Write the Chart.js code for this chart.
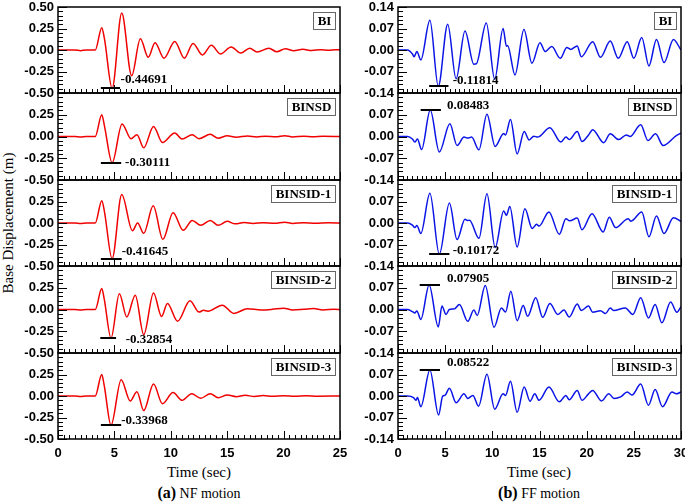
<!DOCTYPE html>
<html><head><meta charset="utf-8">
<script src="https://cdn.jsdelivr.net/npm/chart.js@4.4.0/dist/chart.umd.min.js"></script>
<style>
body{margin:0;background:#fff;width:685px;height:503px;overflow:hidden;position:relative;font-family:"Liberation Serif",serif}
canvas{position:absolute}
.t{position:absolute;white-space:nowrap;color:#000;transform:translate(-50%,-50%)}
</style></head><body>
<div class="t" style="left:8px;top:223px;transform:translate(-50%,-50%) rotate(-90deg);font-size:15px">Base Displacement (m)</div>
<div class="t" style="left:199px;top:472px;font-size:15px">Time (sec)</div>
<div class="t" style="left:539px;top:472px;font-size:15px">Time (sec)</div>
<div class="t" style="left:199px;top:493px;font-size:14px"><b style="font-size:16px">(a)</b> NF motion</div>
<div class="t" style="left:539px;top:493px;font-size:14px"><b style="font-size:16px">(b)</b> FF motion</div>
<script>
// ---------------- data ----------------
const panelNames = ['BI', 'BINSD', 'BINSID-1', 'BINSID-2', 'BINSID-3'];

// NF motion: [time (s), base displacement (m)]
const NF_BI = [[0,0],[1.5,0],[2.0,-0.008],[2.5,0],[3.3,0],[3.88,0.26],[4.12,0.13],[4.8,-0.447],[5.65,0.43],[6.53,-0.30],[7.3,0.13],[8.0,-0.085],[8.6,0.085],[9.4,-0.095],[10.35,0.10],[11.2,-0.095],[11.97,0.077],[12.8,-0.058],[13.6,0.054],[14.4,-0.046],[15.35,0.035],[16.2,-0.035],[17.0,0.02],[17.65,-0.023],[18.7,0.02],[19.4,-0.02],[20.15,0.015],[20.9,-0.01],[21.7,0.008],[22.5,-0.006],[23.3,0.004],[24.0,-0.003],[24.6,0.004],[25,0]];
const NF_BINSD = [[0,0],[1.5,0],[2.0,-0.006],[2.5,0],[3.3,0],[3.88,0.25],[4.12,0.12],[4.8,-0.301],[5.68,0.145],[6.47,-0.026],[7.0,0.02],[7.6,-0.13],[8.47,0.115],[9.26,-0.07],[10.35,0.04],[11.0,-0.03],[11.9,0.02],[12.5,-0.025],[13.5,0.025],[14.2,-0.02],[15.0,0.008],[15.8,-0.008],[16.8,0.006],[17.6,-0.005],[18.4,0.004],[19.3,-0.004],[20.1,0.01],[20.8,-0.005],[21.8,0.004],[22.6,-0.003],[23.5,0.003],[25,0]];
const NF_BINSID1 = [[0,0],[1.5,0],[2.0,-0.006],[2.5,0],[3.3,0],[3.88,0.26],[4.12,0.13],[4.8,-0.416],[5.65,0.33],[6.6,-0.09],[7.06,0.0],[7.6,-0.12],[8.44,0.2],[9.3,-0.19],[10.2,0.12],[11.1,-0.085],[11.9,0.03],[12.65,-0.027],[13.5,0.03],[14.2,-0.027],[15.0,0.02],[15.7,-0.01],[16.5,0.006],[17.3,-0.005],[18.2,0.004],[19.2,-0.004],[20.1,0.01],[20.8,-0.005],[21.8,0.003],[22.8,-0.003],[24.0,0.003],[25,0]];
const NF_BINSID2 = [[0,0],[1.5,0],[2.0,-0.006],[2.5,0],[3.3,0],[3.88,0.24],[4.1,0.12],[4.7,-0.329],[5.44,0.18],[6.1,-0.085],[6.85,0.165],[7.6,-0.29],[8.47,0.19],[9.18,-0.08],[9.7,0.07],[10.6,-0.135],[11.7,0.1],[12.5,-0.03],[12.9,-0.01],[13.3,-0.02],[14.56,0.05],[15.6,-0.045],[16.8,0.01],[18.0,-0.005],[19.0,0.002],[20.0,0.015],[20.8,-0.005],[21.8,0.003],[22.65,0.012],[23.5,-0.005],[24.5,0.003],[25,0]];
const NF_BINSID3 = [[0,0],[1.5,0],[2.0,-0.006],[2.5,0],[3.3,0],[3.88,0.25],[4.1,0.12],[4.7,-0.34],[5.6,0.19],[6.4,-0.058],[7.0,0.05],[7.6,-0.17],[8.47,0.14],[9.26,-0.09],[10.2,0.04],[11.0,-0.05],[11.85,0.027],[12.65,-0.027],[13.5,0.027],[14.2,-0.02],[15.0,0.012],[15.8,-0.008],[16.6,0.008],[17.4,-0.005],[18.2,0.005],[19.0,-0.004],[20.0,0.004],[21.0,-0.003],[22.0,0.003],[23.0,-0.002],[25,0]];

// FF motion: [time (s), base displacement (m)]
const FF_BI = [[0,0],[1.0,0],[1.53,-0.013],[1.7,-0.022],[2.0,-0.005],[2.42,-0.032],[3.38,0.097],[4.27,-0.118],[5.27,0.084],[6.16,-0.094],[7.1,0.062],[8.04,-0.046],[8.3,-0.045],[9.36,0.088],[10.25,-0.095],[11.14,0.07],[11.5,0.012],[11.62,0.015],[12.4,-0.081],[13.35,0.067],[14.2,-0.043],[15.05,0.024],[15.6,-0.005],[16.3,0.011],[17.2,-0.027],[17.9,0.008],[18.3,0.002],[19.0,0.013],[19.43,-0.022],[20.64,0.027],[21.46,-0.024],[22.5,0.029],[23.35,-0.027],[24.3,0.027],[25.0,-0.027],[25.84,0.041],[26.6,-0.052],[27.4,0.034],[28.2,-0.041],[29.2,0.034],[30,0]];
const FF_BINSD = [[0,0],[1.0,0],[1.53,-0.008],[1.78,-0.018],[2.06,-0.008],[2.5,-0.042],[3.42,0.085],[4.38,-0.05],[5.5,0.041],[6.26,-0.029],[7.0,-0.002],[7.4,-0.005],[7.8,-0.002],[8.58,-0.043],[9.43,0.072],[10.3,-0.032],[11.2,0.01],[11.4,0.005],[11.92,0.055],[12.63,-0.056],[13.38,0.016],[13.9,-0.011],[14.4,0.001],[14.8,-0.002],[16.1,0.028],[17.26,-0.018],[17.8,-0.002],[18.15,-0.01],[19.0,0.016],[19.5,-0.016],[20.2,0.005],[20.64,0.022],[21.8,-0.02],[22.5,0.009],[23.4,-0.01],[24.2,0.005],[24.6,0.0],[25.73,0.038],[26.5,-0.013],[27.3,0.009],[28.1,-0.029],[29.5,0.003],[30,0.011]];
const FF_BINSID1 = [[0,0],[1.0,0],[1.53,-0.007],[1.78,-0.015],[2.0,-0.008],[2.42,-0.034],[3.38,0.097],[4.38,-0.102],[5.45,0.065],[6.26,-0.054],[7.1,0.012],[7.35,0.008],[7.58,0.009],[8.58,-0.05],[9.43,0.095],[10.3,-0.08],[11.2,0.039],[11.5,0.025],[11.85,0.054],[12.63,-0.078],[13.45,0.046],[14.23,-0.018],[14.7,-0.004],[14.95,-0.01],[16.0,0.036],[17.1,-0.037],[17.8,0.014],[18.2,0.007],[19.0,0.016],[19.5,-0.022],[20.57,0.03],[21.75,-0.029],[22.4,0.019],[23.06,-0.015],[24.4,0.014],[24.7,0.006],[25.84,0.036],[26.6,-0.045],[27.4,0.023],[28.2,-0.034],[29.2,0.017],[30,0.005]];
const FF_BINSID2 = [[0,0],[1.0,0],[1.53,-0.007],[1.78,-0.011],[2.0,-0.005],[2.42,-0.032],[3.3,0.079],[4.27,-0.056],[4.66,0.011],[5.09,-0.016],[5.44,0.0],[5.98,0.002],[6.51,0.016],[7.4,-0.038],[8.04,-0.002],[8.4,-0.019],[9.25,0.077],[10.18,-0.057],[10.96,0.005],[11.4,-0.008],[11.96,0.059],[12.63,-0.036],[13.27,0.013],[13.74,-0.022],[14.6,0.038],[15.34,-0.025],[16.1,0.019],[16.94,-0.016],[17.6,-0.002],[18.15,-0.024],[19.0,0.018],[19.43,-0.003],[20.2,0.011],[20.64,-0.009],[21.46,-0.004],[22.0,-0.013],[22.5,0.005],[22.85,-0.003],[24.1,0.005],[24.9,-0.016],[25.73,0.038],[26.55,-0.027],[27.26,0.016],[27.97,-0.043],[28.9,0.024],[29.57,-0.009],[30,0.009]];
const FF_BINSID3 = [[0,0],[1.0,0],[1.64,-0.005],[1.9,-0.014],[2.06,-0.005],[2.42,-0.035],[3.38,0.085],[4.3,-0.062],[4.73,-0.001],[4.98,0.002],[5.45,0.025],[6.16,-0.022],[7.0,0.007],[7.4,-0.008],[7.94,0.002],[8.54,-0.033],[9.43,0.071],[10.25,-0.043],[11.14,0.007],[11.4,0.002],[11.92,0.048],[12.63,-0.053],[13.38,0.029],[14.0,-0.017],[14.5,0.007],[14.95,-0.014],[16.0,0.029],[17.1,-0.019],[17.8,0.002],[18.15,-0.012],[19.0,0.018],[19.5,-0.014],[20.2,0.007],[20.64,0.018],[21.57,-0.016],[22.35,0.007],[22.9,-0.008],[23.6,-0.003],[24.3,0.013],[24.8,0.003],[25.73,0.039],[26.55,-0.03],[27.26,0.021],[28.04,-0.035],[29.04,0.013],[29.5,0.007],[30,0.013]];

// peak values marked in each panel and the time span of their marker line
const nfPeaks = [-0.44691, -0.30111, -0.41645, -0.32854, -0.33968];
const ffPeaks = [-0.11814, 0.08483, -0.10172, 0.07905, 0.08522];
const nfPeakSpan = [[3.8,5.5],[3.8,5.6],[3.8,5.65],[3.75,5.15],[3.8,5.6]];
const ffPeakSpan = [[3.3,5.35],[2.4,4.55],[3.3,5.45],[2.3,4.45],[2.3,4.45]];

// ---------------- layout / style ----------------
const nfLabelX = [5.55, 5.95, 5.65, 6.0, 5.6];
const nfLabelDy = [-8, 0, -7, 2, -4];
const ffLabelX = [5.8, 5.2, 5.8, 5.2, 5.2];
const ffLabelDy = [-5, -4, -3, -6, -7];
const panelTops = [7, 93, 180, 266, 353];
const panelBottom = 439;

const cols = [
  {left:0, width:360, yWidth:58, padRight:20, xMax:25, yMax:0.5, yStep:0.25, yMinor:0.05, color:'#f00000',
   series:[NF_BI, NF_BINSD, NF_BINSID1, NF_BINSID2, NF_BINSID3], peaks:nfPeaks, spans:nfPeakSpan, lx:nfLabelX, ldy:nfLabelDy},
  {left:345, width:340, yWidth:53, padRight:4, xMax:30, yMax:0.14, yStep:0.07, yMinor:0.014, color:'#0a14e6',
   series:[FF_BI, FF_BINSD, FF_BINSID1, FF_BINSID2, FF_BINSID3], peaks:ffPeaks, spans:ffPeakSpan, lx:ffLabelX, ldy:ffLabelDy}
];

const panelPlugin = {
  id: 'panel',
  afterDatasetsDraw(chart, args, o) {
    const {ctx, chartArea: a, scales: {x, y}} = chart;
    ctx.save();
    ctx.strokeStyle = '#000';
    ctx.lineWidth = 1;
    ctx.beginPath();
    const nY = Math.round(2 * o.yMax / o.yMinor);
    const per = Math.round(o.yStep / o.yMinor);
    for (let k = 0; k <= nY; k++) {
      const v = -o.yMax + k * o.yMinor;
      const p = Math.round(y.getPixelForValue(v)) + 0.5;
      const len = (k % per === 0) ? 9 : 5;
      ctx.moveTo(a.left, p); ctx.lineTo(a.left + len, p);
    }
    const nX = Math.round(o.xMax / 0.5);
    for (let k = 0; k <= nX; k++) {
      const p = Math.round(x.getPixelForValue(k * 0.5)) + 0.5;
      const len = (k % 10 === 0) ? 8 : 4;
      ctx.moveTo(p, a.bottom); ctx.lineTo(p, a.bottom - len);
    }
    ctx.stroke();
    ctx.lineWidth = 1.5;
    ctx.strokeRect(a.left, a.top, a.right - a.left, a.bottom - a.top);
    // peak marker
    const py = Math.round(y.getPixelForValue(o.peak));
    ctx.lineWidth = 2;
    ctx.beginPath();
    ctx.moveTo(x.getPixelForValue(o.span[0]), py);
    ctx.lineTo(x.getPixelForValue(o.span[1]), py);
    ctx.stroke();
    ctx.font = 'bold 13px "Liberation Serif"';
    ctx.fillStyle = '#000';
    ctx.textBaseline = 'middle';
    ctx.textAlign = 'left';
    ctx.fillText(o.peak.toFixed(5), x.getPixelForValue(o.labelX), py + o.labelDy);
    // panel name box
    const w = Math.round(ctx.measureText(o.name).width) + 8, h = 17;
    const bx = Math.round(a.right - 5 - w), by = Math.round(a.top + 5);
    ctx.fillStyle = '#fff';
    ctx.fillRect(bx, by, w, h);
    ctx.strokeStyle = '#666';
    ctx.lineWidth = 1;
    ctx.strokeRect(bx + 0.5, by + 0.5, w, h);
    ctx.fillStyle = '#000';
    ctx.textAlign = 'center';
    ctx.fillText(o.name, bx + w / 2 + 0.5, by + h / 2 + 1.5);
    ctx.restore();
  }
};

const tickFont = {family: '"Liberation Sans", Arial, sans-serif', weight: 'bold', size: 13};

function makePanel(ci, i) {
  const c = cols[ci];
  const top = panelTops[i];
  const bottom = i < 4 ? panelTops[i + 1] : panelBottom;
  const ph = bottom - top;
  const isBottom = i === 4;
  const padTop = 12, padBot = isBottom ? 6 : 12;
  const xH = isBottom ? 24 : 0;
  const cv = document.createElement('canvas');
  cv.width = c.width;
  cv.height = padTop + ph + xH + padBot;
  cv.style.left = c.left + 'px';
  cv.style.top = (top - padTop) + 'px';
  document.body.appendChild(cv);
  new Chart(cv, {
    type: 'line',
    data: {datasets: [{
      data: c.series[i].map(p => ({x: p[0], y: p[1]})),
      borderColor: c.color, borderWidth: 1.5, pointRadius: 0,
      cubicInterpolationMode: 'monotone', fill: false
    }]},
    options: {
      responsive: false, animation: false, devicePixelRatio: 1,
      layout: {padding: {top: padTop, bottom: padBot, left: 0, right: c.padRight}},
      plugins: {
        legend: {display: false}, tooltip: {enabled: false},
        panel: {name: panelNames[i], peak: c.peaks[i], span: c.spans[i], labelX: c.lx[i], labelDy: c.ldy[i],
                xMax: c.xMax, yMax: c.yMax, yStep: c.yStep, yMinor: c.yMinor}
      },
      scales: {
        x: {
          type: 'linear', min: 0, max: c.xMax, display: isBottom,
          grid: {display: false, drawTicks: false}, border: {display: false},
          ticks: {stepSize: 5, autoSkip: false, maxRotation: 0, padding: 7, color: '#000', font: tickFont},
          afterFit: s => { s.height = xH; s.paddingLeft = 0; s.paddingRight = 0; }
        },
        y: {
          min: -c.yMax, max: c.yMax,
          grid: {display: false, drawTicks: false}, border: {display: false},
          ticks: {
            stepSize: c.yStep, autoSkip: false, padding: 4, color: '#000', font: tickFont,
            callback: v => (i > 0 && v > c.yMax - 1e-9) ? '' : (Math.abs(v) < 1e-9 ? '0.00' : v.toFixed(2))
          },
          afterFit: s => { s.width = c.yWidth; s.paddingTop = 0; s.paddingBottom = 0; }
        }
      }
    },
    plugins: [panelPlugin]
  });
}

for (let ci = 0; ci < 2; ci++) for (let i = 0; i < 5; i++) makePanel(ci, i);
</script>
</body></html>
